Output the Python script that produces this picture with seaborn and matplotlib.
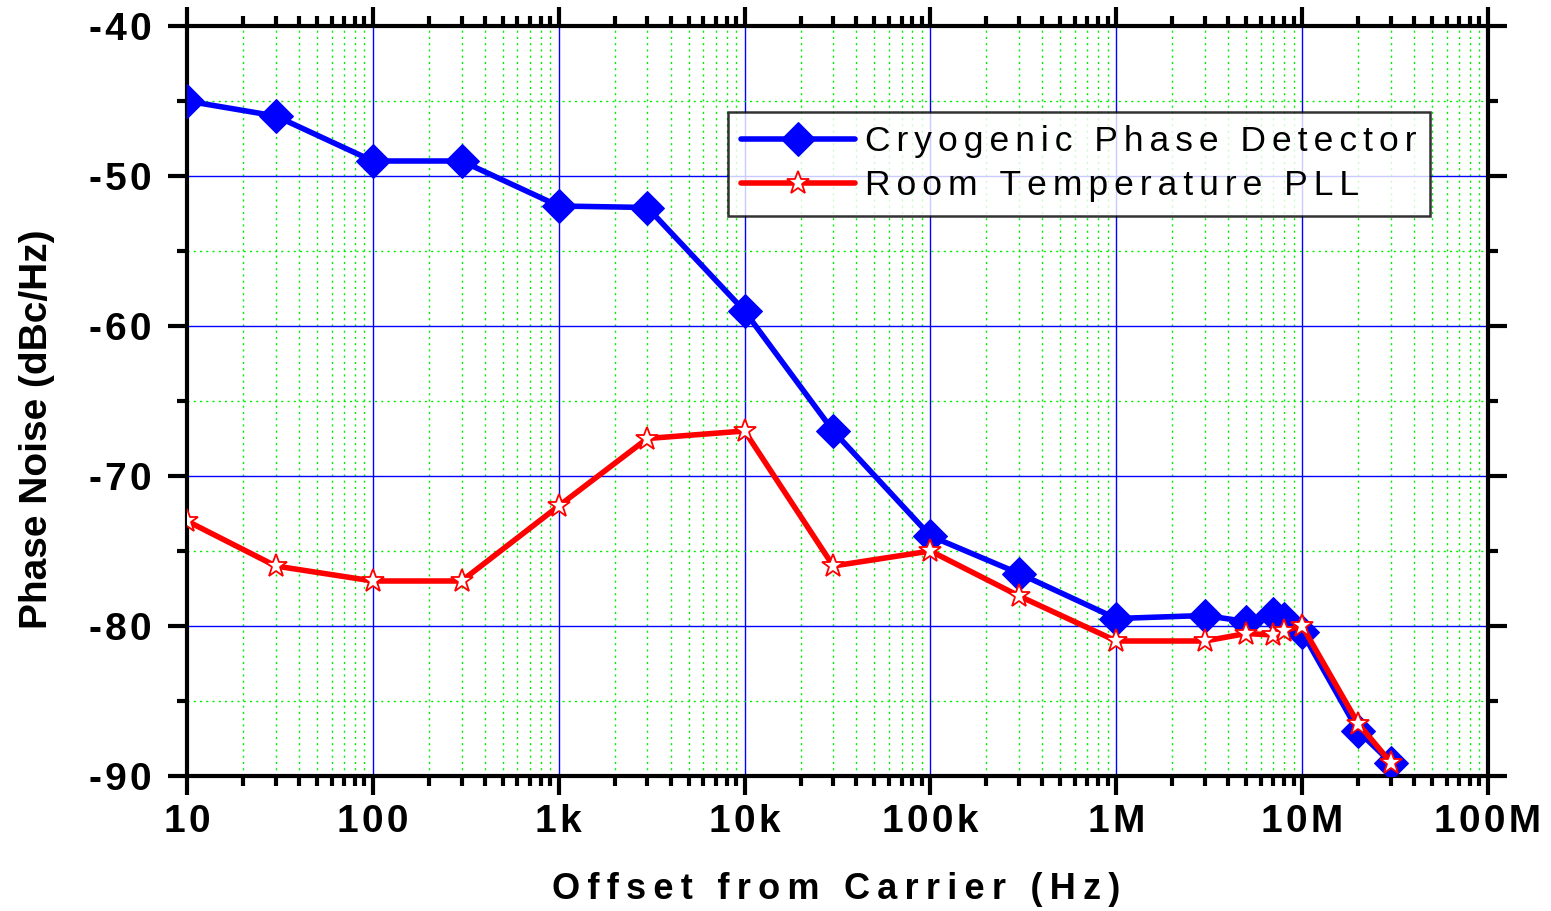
import numpy as np
import pandas as pd
import matplotlib
matplotlib.use("Agg")
import matplotlib.pyplot as plt
import seaborn as sns
from matplotlib.ticker import FixedLocator, LogLocator, NullFormatter, FixedFormatter

# ---- data ----
cryo_freq = [10, 30, 100, 300, 1e3, 3e3, 1e4, 3e4, 1e5, 3e5, 1e6, 3e6, 5e6, 7e6, 8e6, 1e7, 2e7, 3e7]
cryo_pn = [-45, -46, -49, -49, -52, -52.1, -59, -67, -74, -76.5, -79.5, -79.3, -79.7, -79.2, -79.5, -80.4, -87, -89.1]
room_freq = [10, 30, 100, 300, 1e3, 3e3, 1e4, 3e4, 1e5, 3e5, 1e6, 3e6, 5e6, 7e6, 8e6, 1e7, 2e7, 3e7]
room_pn = [-73, -76, -77, -77, -72, -67.5, -67, -76, -75, -78, -81, -81, -80.5, -80.6, -80.3, -80.0, -86.5, -89.1]
x_ticks = [10, 100, 1e3, 1e4, 1e5, 1e6, 1e7, 1e8]
x_labels = ["10", "100", "1k", "10k", "100k", "1M", "10M", "100M"]
y_ticks = [-40, -50, -60, -70, -80, -90]
y_labels = ["-40", "-50", "-60", "-70", "-80", "-90"]
series_names = ["Cryogenic Phase Detector", "Room Temperature PLL"]

HAIR = "\u200a"
THIN = "\u2009"
def spaced(s, sep=HAIR):
    return sep.join(list(s))

cryo = pd.DataFrame({"freq": cryo_freq, "pn": cryo_pn})
room = pd.DataFrame({"freq": room_freq, "pn": room_pn})

sns.set_style("white")
plt.rcParams['font.family'] = ['Liberation Sans', 'DejaVu Sans']
plt.rcParams['axes.unicode_minus'] = False
plt.rcParams['text.color'] = 'black'
plt.rcParams['xtick.color'] = 'black'
plt.rcParams['ytick.color'] = 'black'
plt.rcParams['axes.labelcolor'] = 'black'

fig = plt.figure(figsize=(15.51, 9.11), dpi=100)
ax = fig.add_axes([187/1551, 1-776/911, (1488-187)/1551, (776-26)/911])

sns.lineplot(data=cryo, x="freq", y="pn", ax=ax, color="#0000FF", lw=4.0,
             marker="D", markersize=17, markeredgecolor="#0000FF",
             markerfacecolor="#0000FF", label=series_names[0], sort=False, zorder=3)
sns.lineplot(data=room, x="freq", y="pn", ax=ax, color="#FF0000", lw=4.0,
             marker="*", markersize=17, markeredgecolor="#FF0000", markeredgewidth=1.3,
             markerfacecolor="white", label=series_names[1], sort=False, zorder=4)

ax.set_xscale("log")
ax.set_xlim(10, 1e8)
ax.set_ylim(-90, -40)

ax.xaxis.set_major_locator(FixedLocator(x_ticks))
ax.xaxis.set_major_formatter(FixedFormatter([spaced(l) for l in x_labels]))
ax.xaxis.set_minor_locator(LogLocator(base=10, subs=np.arange(2, 10)))
ax.xaxis.set_minor_formatter(NullFormatter())
ax.yaxis.set_major_locator(FixedLocator(y_ticks))
ax.yaxis.set_major_formatter(FixedFormatter([spaced(l) for l in y_labels]))
ax.yaxis.set_minor_locator(FixedLocator([-45, -55, -65, -75, -85]))

ax.grid(which="major", color="#0000FF", lw=1.0, ls="-", zorder=0)
ax.grid(which="minor", color="#00EE00", lw=1.0, ls=(0, (1.5, 3)), zorder=0)
ax.set_axisbelow(True)

for s in ax.spines.values():
    s.set_color("black")
    s.set_linewidth(3)
ax.tick_params(which="major", direction="out", length=13.5, width=3, color="black",
               top=True, right=True, bottom=True, left=True, labelsize=28)
ax.tick_params(axis="y", which="major", pad=12)
ax.tick_params(axis="x", which="major", pad=7)
ax.tick_params(which="minor", direction="out", length=7, width=3, color="black",
               top=True, right=True, bottom=True, left=True)
for lab in ax.get_xticklabels() + ax.get_yticklabels():
    lab.set_fontweight("bold")

ax.set_xlabel(spaced("Offset from Carrier (Hz)", THIN), fontsize=26, fontweight="bold")
ax.xaxis.set_label_coords(0.4992, -0.128)
ax.set_ylabel("Phase Noise (dBc/Hz)", fontsize=28, fontweight="bold")
ax.yaxis.set_label_coords(-0.1015, 0.4627)

leg = ax.legend(loc="upper left", bbox_to_anchor=((728-187)/1301, (776-112)/750),
                fontsize=25.5, frameon=True, fancybox=False, edgecolor="black",
                handlelength=3.2, handletextpad=0.3, borderpad=0.38, labelspacing=0.3,
                borderaxespad=0)
leg.get_frame().set_linewidth(1.8)
for t in leg.get_texts():
    t.set_text(spaced(t.get_text(), HAIR + HAIR))

fig.savefig("out.png", dpi=100)
